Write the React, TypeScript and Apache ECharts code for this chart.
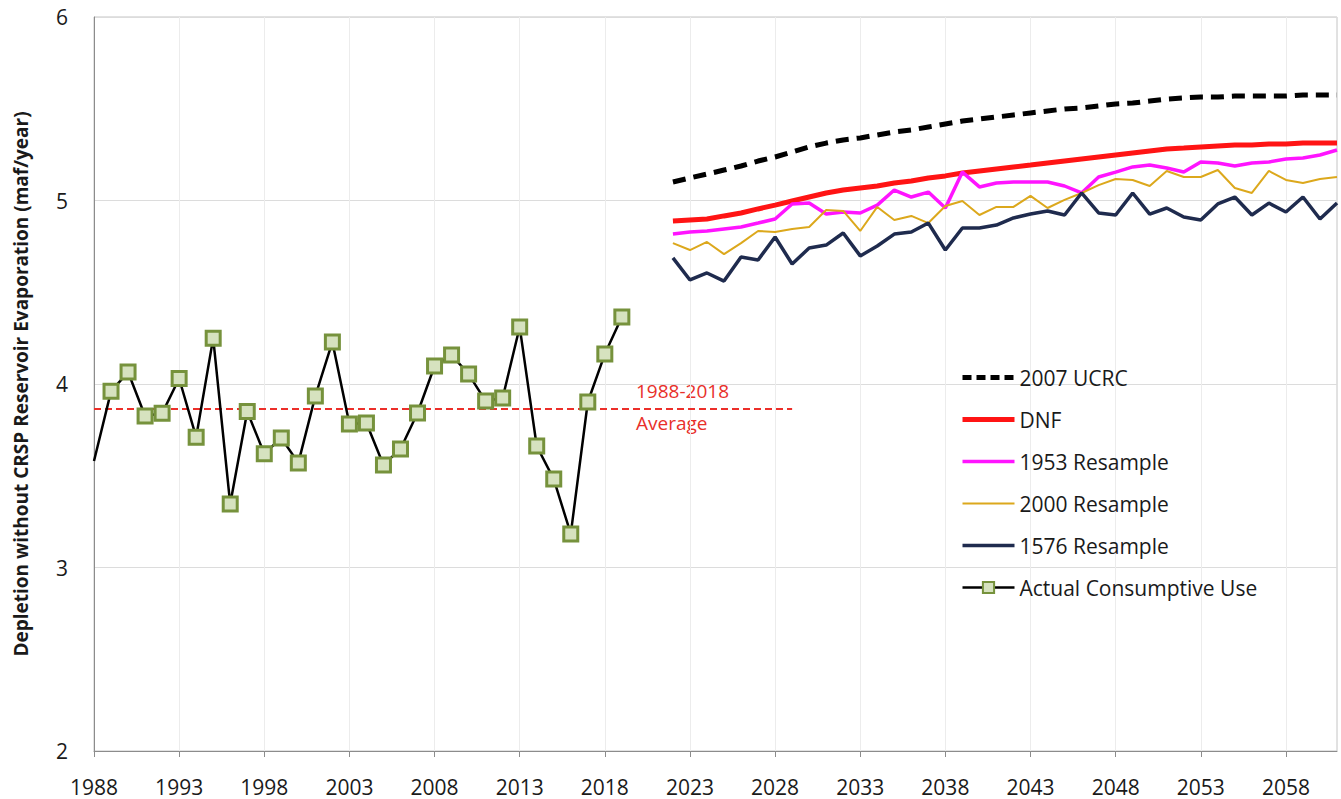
import React, { useEffect, useRef } from "react";
import * as echarts from "echarts";

const FONT = "'Open Sans', 'Noto Sans', sans-serif";

const firstYear = 1988;
const lastYear = 2061;
const years: string[] = Array.from({ length: lastYear - firstYear + 1 }, (_, i) => String(firstYear + i));

// Actual consumptive use, 1988-2019
const actualUse = [
  3.58, 3.96, 4.065, 3.826, 3.84, 4.03, 3.71, 4.25, 3.346, 3.85, 3.62, 3.706, 3.57, 3.935, 4.229, 3.782,
  3.787, 3.559, 3.646, 3.842, 4.098, 4.158, 4.054, 3.907, 3.924, 4.311, 3.662, 3.482, 3.183, 3.902, 4.163, 4.365,
];
const averageValue = 3.864;
const averageSpan = ["1988", "2029"];

// Projections, 2022-2061
const projStart = 2022;
const ucrc2007 = [
  5.101, 5.123, 5.144, 5.166, 5.188, 5.215, 5.237, 5.264, 5.292, 5.313, 5.33, 5.341, 5.357, 5.373, 5.384, 5.401,
  5.417, 5.433, 5.444, 5.455, 5.466, 5.477, 5.488, 5.499, 5.504, 5.515, 5.526, 5.531, 5.542, 5.553, 5.559, 5.564,
  5.564, 5.569, 5.569, 5.569, 5.569, 5.575, 5.575, 5.575,
];
const dnf = [
  4.888, 4.894, 4.899, 4.916, 4.932, 4.954, 4.975, 4.997, 5.019, 5.041, 5.057, 5.068, 5.079, 5.095, 5.106, 5.123,
  5.134, 5.15, 5.161, 5.172, 5.183, 5.193, 5.204, 5.215, 5.226, 5.237, 5.248, 5.259, 5.27, 5.281, 5.286, 5.292,
  5.297, 5.302, 5.302, 5.308, 5.308, 5.313, 5.313, 5.313,
];
const resample1953 = [
  4.817, 4.828, 4.834, 4.845, 4.856, 4.877, 4.899, 4.981, 4.986, 4.926, 4.937, 4.932, 4.975, 5.057, 5.019, 5.046,
  4.959, 5.155, 5.074, 5.095, 5.101, 5.101, 5.101, 5.079, 5.041, 5.128, 5.155, 5.183, 5.193, 5.177, 5.155, 5.21,
  5.204, 5.188, 5.204, 5.21, 5.226, 5.232, 5.248, 5.275,
];
const resample2000 = [
  4.768, 4.73, 4.774, 4.708, 4.768, 4.834, 4.828, 4.845, 4.856, 4.948, 4.943, 4.834, 4.965, 4.894, 4.916, 4.877,
  4.97, 4.997, 4.921, 4.965, 4.965, 5.025, 4.959, 5.003, 5.041, 5.084, 5.117, 5.112, 5.079, 5.161, 5.128, 5.128,
  5.166, 5.068, 5.041, 5.161, 5.112, 5.095, 5.117, 5.128,
];
const resample1576 = [
  4.687, 4.567, 4.605, 4.561, 4.692, 4.676, 4.801, 4.654, 4.741, 4.757, 4.823, 4.698, 4.752, 4.817, 4.828, 4.877,
  4.73, 4.85, 4.85, 4.866, 4.905, 4.926, 4.943, 4.921, 5.041, 4.932, 4.921, 5.041, 4.926, 4.959, 4.91, 4.894,
  4.981, 5.019, 4.921, 4.986, 4.937, 5.019, 4.899, 4.986,
];

const actualName = "Actual Consumptive Use";

function pad(values: number[], startYear: number): (number | null)[] {
  const lead = startYear - firstYear;
  const out: (number | null)[] = [];
  for (let i = 0; i < years.length; i++) {
    const k = i - lead;
    out.push(k >= 0 && k < values.length ? values[k] : null);
  }
  return out;
}

export default function App() {
  const ref = useRef<HTMLDivElement>(null);
  useEffect(() => {
    if (!ref.current) return;
    const chart = echarts.init(ref.current, undefined, { renderer: "svg" });
    const actualData: any[] = pad(actualUse, 1988);
    actualData[0] = { value: actualUse[0], symbol: "none" };

    const projDefs = [
      { name: "2007 UCRC", vals: ucrc2007, color: "#000000", width: 5, type: [13, 8] as any },
      { name: "DNF", vals: dnf, color: "#ff1414", width: 5, type: "solid" },
      { name: "1953 Resample", vals: resample1953, color: "#ff14ff", width: 3.5, type: "solid" },
      { name: "2000 Resample", vals: resample2000, color: "#dca81c", width: 2, type: "solid" },
      { name: "1576 Resample", vals: resample1576, color: "#1f2b4e", width: 3.5, type: "solid" },
    ];

    const projSeries = projDefs.map((d) => ({
      name: d.name,
      type: "line",
      data: pad(d.vals, projStart),
      symbol: "none",
      lineStyle: { color: d.color, width: d.width, type: d.type },
      itemStyle: { color: d.color },
      z: 2,
    }));

    chart.setOption({
      animation: false,
      backgroundColor: "#ffffff",
      textStyle: { fontFamily: FONT },
      grid: { left: 94, right: 4, top: 17, bottom: 48, show: true, borderColor: "#c4c4c4", borderWidth: 1 },
      xAxis: {
        type: "category",
        data: years,
        boundaryGap: false,
        axisLine: { lineStyle: { color: "#8c8c8c", width: 1 } },
        axisTick: { interval: 4, length: 6, lineStyle: { color: "#8c8c8c" } },
        axisLabel: { interval: 4, fontSize: 21, color: "#1a1a1a", margin: 25, fontFamily: FONT },
        splitLine: { show: true, interval: 4, lineStyle: { color: "#ececec", width: 1 } },
      },
      yAxis: {
        type: "value",
        min: 2,
        max: 6,
        interval: 1,
        name: "Depletion without CRSP Reservoir Evaporation (maf/year)",
        nameLocation: "middle",
        nameGap: 64,
        nameTextStyle: { fontSize: 19, fontWeight: "bold", color: "#1a1a1a", fontFamily: FONT },
        axisLine: { show: true, lineStyle: { color: "#8c8c8c", width: 1 } },
        axisTick: { show: false },
        axisLabel: { fontSize: 21, color: "#1a1a1a", margin: 26, fontFamily: FONT },
        splitLine: { show: true, lineStyle: { color: "#dcdcdc", width: 1 } },
      },
      legend: {
        data: [
          ...projDefs.map((d) => ({
            name: d.name,
            itemStyle: { opacity: 0 },
            lineStyle: { width: d.width, type: d.name === "2007 UCRC" ? [9, 5] : "solid" },
          })),
          { name: actualName, lineStyle: { width: 2.5 } },
        ],
        orient: "vertical",
        left: 955,
        top: 362,
        itemWidth: 52,
        itemHeight: 14,
        itemGap: 21,
        textStyle: { fontSize: 21, color: "#1a1a1a", fontFamily: FONT },
      },
      graphic: [
        {
          type: "text",
          left: 636,
          top: 375,
          style: {
            text: "1988-2018\nAverage",
            fill: "#e8302a",
            fontSize: 19,
            lineHeight: 32,
            align: "center",
            fontFamily: FONT,
            width: 102,
          },
        },
      ],
      series: [
        {
          name: "avg",
          type: "line",
          data: averageSpan.map((y) => [y, averageValue]),
          symbol: "none",
          lineStyle: { color: "#ec2f2a", width: 2, type: [7, 4] },
          z: 1,
        },
        ...projSeries,
        {
          name: actualName,
          type: "line",
          data: actualData,
          symbol: "rect",
          symbolSize: 14,
          showSymbol: true,
          showAllSymbol: true,
          itemStyle: { color: "#d6e2bf", borderColor: "#76923c", borderWidth: 3 },
          lineStyle: { color: "#000000", width: 2.5 },
          z: 3,
        },
      ],
    });
    return () => chart.dispose();
  }, []);
  return (
    <div
      ref={ref}
      style={{ position: "fixed", left: 0, top: 0, width: 1341, height: 799, background: "#fff" }}
    />
  );
}
